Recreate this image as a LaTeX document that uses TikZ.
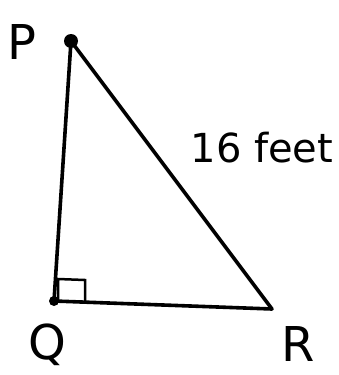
\documentclass[tikz,border=0pt]{standalone}
\usepackage{fontspec}
\setmainfont{DejaVu Sans}
\begin{document}
\begin{tikzpicture}[x=1pt,y=-1pt,
  edge/.style={line width=3.6pt,line cap=round,line join=round},
  lbl/.style={font=\fontsize{48}{52}\selectfont,inner sep=0pt},
  dimlbl/.style={font=\fontsize{40}{44}\selectfont,inner sep=0pt}]
\useasboundingbox (0,0) rectangle (339,375);
\coordinate (P) at (71,41);
\coordinate (Q) at (54,301);
\coordinate (R) at (272,309);
\draw[edge] (P) -- (Q) -- (R) -- cycle;
\fill (P) circle (7);
\fill (Q) circle (5);
\coordinate (s1) at (58,279);
\coordinate (s2) at (85,280);
\draw[line width=2.5pt] (58,301) -- (s1) -- (s2) -- (85,302);
\node[lbl] (lP) at (22,42) {P};
\node[lbl] (lQ) at (47,345) {Q};
\node[lbl] (lR) at (298,344) {R};
\node[dimlbl] (len) at (262,148) {16 feet};
\end{tikzpicture}
\end{document}
